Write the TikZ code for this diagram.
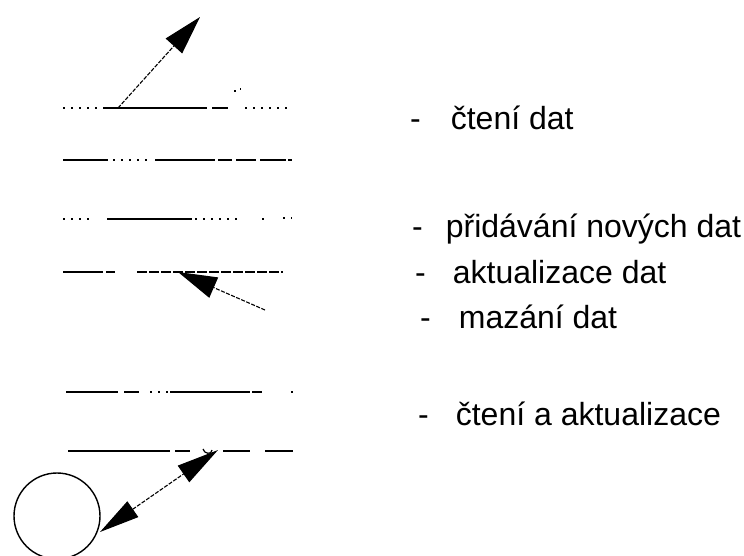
\documentclass[tikz,border=0pt]{standalone}
\usepackage{fontspec}
\setmainfont{Liberation Sans}
\usetikzlibrary{arrows.meta}
\begin{document}
\begin{tikzpicture}[x=1pt,y=-1pt,
  seg/.style={line width=1.8pt,black},
  dots/.style={line width=1.8pt,black,dash pattern=on 2pt off 6pt},
  fin/.style={line width=1.6pt,black,dash pattern=on 10pt off 2pt},
  arr/.style={line width=1.1pt,dash pattern=on 4pt off 1.5pt,-{Triangle[length=39pt,width=22pt,sharp]}},
  darr/.style={line width=1.1pt,dash pattern=on 4pt off 1.5pt,{Triangle[length=40pt,width=19pt,sharp]}-{Triangle[length=42pt,width=20pt,sharp]}},
  lbl/.style={anchor=base west,inner sep=0pt,font=\fontsize{32}{36}\selectfont}]
\useasboundingbox (0,0) rectangle (744,555);
% line 1
\draw[dots] (63,108) -- (100,108);
\draw[seg] (103,108) -- (207,108);
\draw[seg] (212,108) -- (228,108);
\draw[dots] (245,108) -- (292,108);
\draw[line width=1.2pt] (234,91) -- (236,91) (240,89) -- (241,89);
% line 2
\draw[seg] (63,160) -- (108,160);
\draw[dots] (113,160) -- (150,160);
\draw[seg] (155,160) -- (215,160);
\draw[seg] (218,160) -- (232,160);
\draw[seg] (236,160) -- (256,160);
\draw[seg] (260,160) -- (286,160);
\draw[seg] (288,160) -- (292,160);
% line 3
\draw[dots] (63,219) -- (90,219);
\draw[seg] (107,219) -- (192,219);
\draw[dots] (195,219) -- (237,219);
\draw[seg] (262,219) -- (264,219);
\draw[dots] (283,218) -- (292,218);
% line 4
\draw[seg] (63,272) -- (103,272);
\draw[seg] (106,272) -- (115,272);
\draw[fin] (137,272) -- (283,272);
% line 5
\draw[seg] (66,392) -- (118,392);
\draw[seg] (124,392) -- (139,392);
\draw[dots] (150,392) -- (168,392);
\draw[seg] (170,392) -- (250,392);
\draw[seg] (252,392) -- (262,392);
\draw[seg] (291,392) -- (293,392);
% line 6
\draw[seg] (68,451) -- (170,451);
\draw[seg] (175,451) -- (190,451);
\draw[line width=1.2pt] (203,449) .. controls (204,454) and (212,455) .. (212,450);
\draw[seg] (223,451) -- (250,451);
\draw[seg] (265,451) -- (293,451);
% circle
\node[draw,circle,line width=1.4pt,minimum size=86pt,inner sep=0pt] (disk) at (57,516) {};
% arrows
\coordinate (a1s) at (118,108);
\coordinate (a1e) at (200,17);
\draw[arr] (a1s) -- (a1e);
\coordinate (a2s) at (265,310);
\coordinate (a2e) at (178,272);
\draw[arr] (a2s) -- (a2e);
\coordinate (a3s) at (100,532);
\coordinate (a3e) at (218,450);
\draw[darr] (a3s) -- (a3e);
% labels
\node[lbl] (t1) at (410,129) {-\hspace{30pt}čtení dat};
\node[lbl] (t2) at (412,237) {-\hspace{23pt}přidávání nových dat};
\node[lbl] (t3) at (415,283) {-\hspace{27pt}aktualizace dat};
\node[lbl] (t4) at (420,328) {-\hspace{28pt}mazání dat};
\node[lbl] (t5) at (418,425) {-\hspace{27pt}čtení a aktualizace};
\end{tikzpicture}
\end{document}
